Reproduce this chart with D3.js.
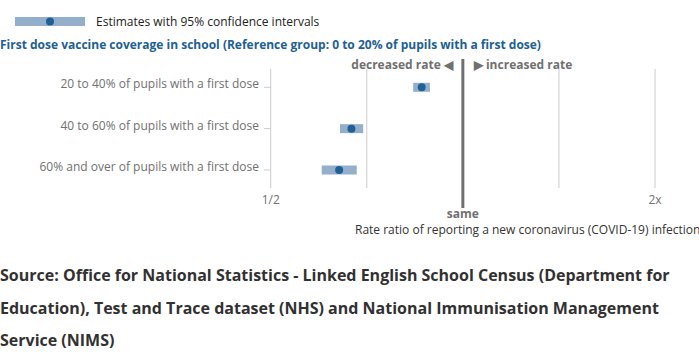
<!DOCTYPE html>
<html>
<head>
<meta charset="utf-8">
<script src="https://cdn.jsdelivr.net/npm/d3@7"></script>
<style>
  body { margin: 0; background: #fff; font-family: "Open Sans", sans-serif; }
  #viz svg { display: block; }
</style>
</head>
<body>
<div id="viz"></div>
<script>
// Chart data
const categories = [
    "20 to 40% of pupils with a first dose",
    "40 to 60% of pupils with a first dose",
    "60% and over of pupils with a first dose"
];
const estimates = [0.862, 0.669, 0.640];
const lowerCI = [0.836, 0.642, 0.601];
const upperCI = [0.888, 0.698, 0.682];
const gridValues = [0.5, Math.SQRT1_2, Math.SQRT2, 2];
const tickLabels = [{v: 0.5, label: "1/2"}, {v: 2, label: "2x"}];

const dims = { width: 699, height: 354 };
const blue = "#206095";
const barColor = "#93afcc";
const grey = "#707070";

const svg = d3.select("#viz")
    .append("svg")
    .attr("width", dims.width)
    .attr("height", dims.height);

// Scales
const xScale = d3.scaleLog().base(2)
    .domain([0.5, 2])
    .range([270.7, 655]);

const yScale = d3.scalePoint()
    .domain(categories)
    .range([87.3, 170]);

const rows = categories.map((c, i) => ({cat: c, est: estimates[i], lo: lowerCI[i], hi: upperCI[i]}));

// Legend
const legend = svg.append("g").attr("class", "legend");
legend.append("rect")
    .attr("x", 15).attr("y", 17)
    .attr("width", 70).attr("height", 9)
    .style("fill", barColor);
legend.append("circle")
    .attr("cx", 50).attr("cy", 21.5).attr("r", 4)
    .style("fill", blue);
legend.append("text")
    .attr("x", 96).attr("y", 25.5)
    .style("font-size", "12px")
    .style("fill", "#222")
    .text("Estimates with 95% confidence intervals");

// Title
svg.append("text")
    .attr("x", 0).attr("y", 49)
    .style("font-size", "12px")
    .style("font-weight", "bold")
    .style("fill", blue)
    .text("First dose vaccine coverage in school (Reference group: 0 to 20% of pupils with a first dose)");

// Gridlines
svg.append("g")
    .selectAll("line")
    .data(gridValues)
    .join("line")
    .attr("x1", d => xScale(d)).attr("x2", d => xScale(d))
    .attr("y1", 69).attr("y2", 188)
    .style("stroke", "#cccccc")
    .style("stroke-width", 1);

// Y axis ticks and labels
const yAxis = svg.append("g").attr("class", "y-axis");
yAxis.selectAll("line")
    .data(categories)
    .join("line")
    .attr("x1", 264).attr("x2", xScale(0.5))
    .attr("y1", d => yScale(d)).attr("y2", d => yScale(d))
    .style("stroke", "#cccccc");
yAxis.selectAll("text")
    .data(categories)
    .join("text")
    .attr("x", 259)
    .attr("y", d => yScale(d) + 1)
    .style("text-anchor", "end")
    .style("font-size", "12px")
    .style("fill", grey)
    .text(d => d);

// X tick labels
svg.append("g")
    .selectAll("text")
    .data(tickLabels)
    .join("text")
    .attr("x", d => xScale(d.v))
    .attr("y", 204)
    .style("text-anchor", "middle")
    .style("font-size", "12px")
    .style("fill", grey)
    .text(d => d.label);

// Reference line at 1
svg.append("line")
    .attr("x1", xScale(1)).attr("x2", xScale(1))
    .attr("y1", 59).attr("y2", 208)
    .style("stroke", grey)
    .style("stroke-width", 3);

svg.append("text")
    .attr("x", xScale(1) - 10).attr("y", 69)
    .style("text-anchor", "end")
    .style("font-size", "12px")
    .style("font-weight", "bold")
    .style("fill", grey)
    .text("decreased rate \u25C0");

svg.append("text")
    .attr("x", xScale(1) + 11).attr("y", 69)
    .style("font-size", "12px")
    .style("font-weight", "bold")
    .style("fill", grey)
    .text("\u25B6 increased rate");

svg.append("text")
    .attr("x", xScale(1)).attr("y", 218)
    .style("text-anchor", "middle")
    .style("font-size", "12px")
    .style("font-weight", "bold")
    .style("fill", grey)
    .text("same");

svg.append("text")
    .attr("x", 355).attr("y", 234)
    .style("font-size", "12px")
    .style("fill", "#333")
    .text("Rate ratio of reporting a new coronavirus (COVID-19) infection");

// Confidence intervals and estimates
const marks = svg.append("g").attr("class", "marks");
marks.selectAll("rect")
    .data(rows)
    .join("rect")
    .attr("x", d => xScale(d.lo))
    .attr("width", d => xScale(d.hi) - xScale(d.lo))
    .attr("y", d => yScale(d.cat) - 4.5)
    .attr("height", 9)
    .style("fill", barColor);
marks.selectAll("circle")
    .data(rows)
    .join("circle")
    .attr("cx", d => xScale(d.est))
    .attr("cy", d => yScale(d.cat))
    .attr("r", 4)
    .style("fill", blue);

// Source
const source = [
    "Source: Office for National Statistics - Linked English School Census (Department for",
    "Education), Test and Trace dataset (NHS) and National Immunisation Management",
    "Service (NIMS)"
];
svg.append("g")
    .selectAll("text")
    .data(source)
    .join("text")
    .attr("x", 0)
    .attr("y", (d, i) => 281 + i * 32.5)
    .style("font-size", "16px")
    .style("font-weight", "bold")
    .style("fill", "#323132")
    .text(d => d);
</script>
</body>
</html>
